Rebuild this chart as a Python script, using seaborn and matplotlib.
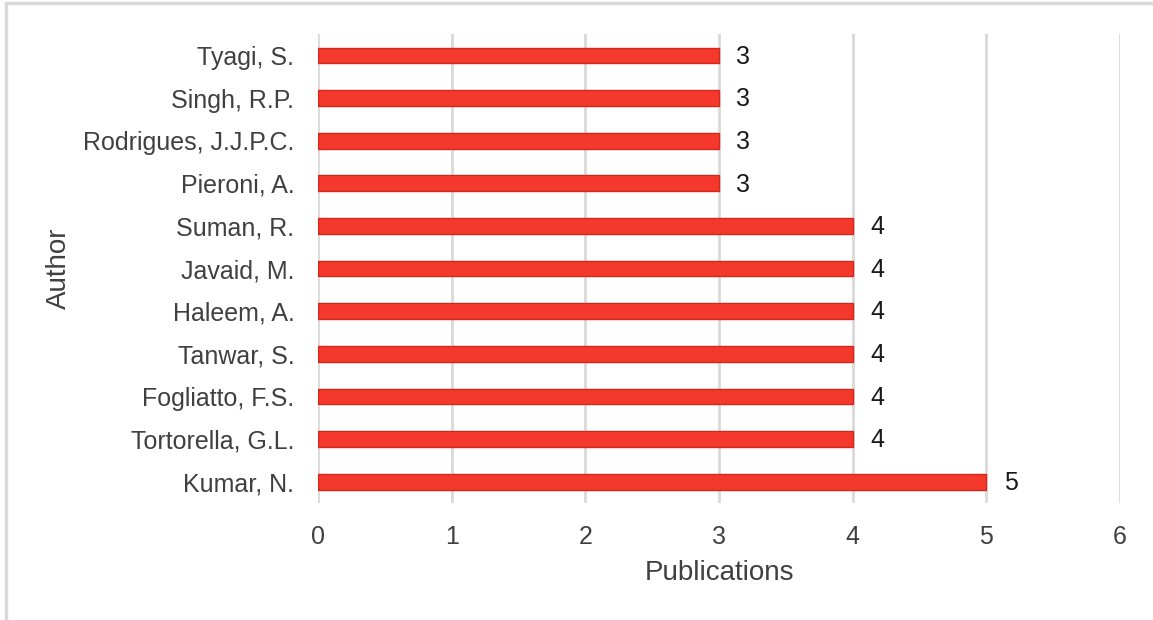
import matplotlib
matplotlib.use("Agg")
import matplotlib.pyplot as plt
import seaborn as sns
import pandas as pd
from matplotlib.lines import Line2D

# data
authors = ["Tyagi, S.", "Singh, R.P.", "Rodrigues, J.J.P.C.", "Pieroni, A.",
           "Suman, R.", "Javaid, M.", "Haleem, A.", "Tanwar, S.",
           "Fogliatto, F.S.", "Tortorella, G.L.", "Kumar, N."]
publications = [3, 3, 3, 3, 4, 4, 4, 4, 4, 4, 5]
x_ticks = [0, 1, 2, 3, 4, 5, 6]

df = pd.DataFrame({"Author": authors, "Publications": publications})

sns.set_style("white")
plt.rcParams["font.family"] = ["Liberation Sans", "DejaVu Sans"]
text_col = "#404040"

fig = plt.figure(figsize=(11.53, 6.2), dpi=100)
ax = fig.add_axes([0.2758, 0.1887, 0.6956, 0.7563])

sns.barplot(data=df, x="Publications", y="Author", orient="h",
            color="#F4392C", edgecolor="#D4261C", linewidth=1,
            width=0.37, ax=ax, saturation=1)

ax.set_xlim(0, 6)
ax.set_xticks(x_ticks)
ax.xaxis.grid(True, color="#D9D9D9", linewidth=2)
ax.set_axisbelow(True)
for s in ax.spines.values():
    s.set_visible(False)

ax.tick_params(axis="both", length=0, labelsize=18, labelcolor=text_col)
ax.tick_params(axis="x", pad=16)
ax.tick_params(axis="y", pad=17)

for i, v in enumerate(publications):
    ax.text(v + 0.13, i + 0.03, str(v), va="center", ha="left",
            fontsize=18, color="#1a1a1a")

ax.set_xlabel("Publications", fontsize=20, color=text_col, labelpad=8)
ax.set_ylabel("Author", fontsize=20, color=text_col, labelpad=8)

# outer frame: only top and left edges are visible in the source
fig.lines.append(Line2D([0.0052, 1.0], [0.995, 0.995], transform=fig.transFigure,
                        color="#D9D9D9", linewidth=2.5))
fig.lines.append(Line2D([0.0052, 0.0052], [0.0, 0.995], transform=fig.transFigure,
                        color="#D9D9D9", linewidth=2.5))

fig.savefig("out.png", dpi=100)
